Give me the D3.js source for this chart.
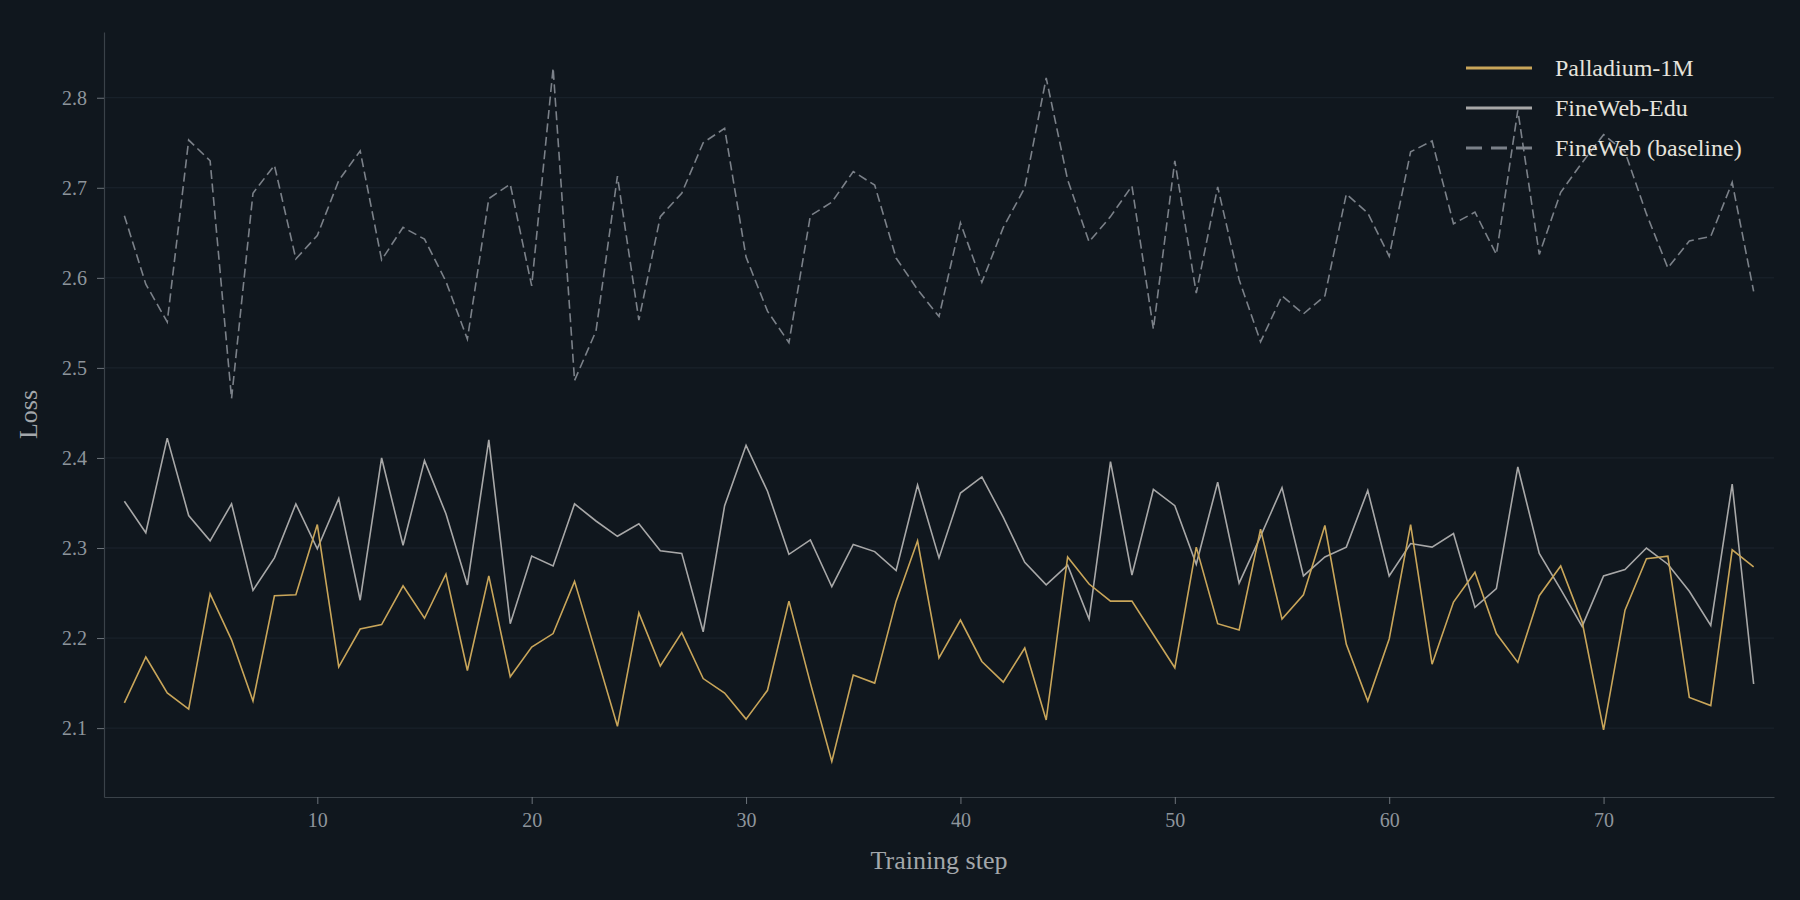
<!DOCTYPE html>
<html>
<head>
<meta charset="utf-8">
<script src="https://d3js.org/d3.v7.min.js"></script>
<style>
  html, body { margin: 0; padding: 0; background: #10171e; }
  svg { display: block; }
  text { font-family: "Liberation Serif", "DejaVu Serif", serif; }
</style>
</head>
<body>
<div class="chart-container"></div>
<script>
// Data
const steps = [1,2,3,4,5,6,7,8,9,10,11,12,13,14,15,16,17,18,19,20,21,22,23,24,25,26,27,28,29,30,
  31,32,33,34,35,36,37,38,39,40,41,42,43,44,45,46,47,48,49,50,51,52,53,54,55,56,57,58,59,60,
  61,62,63,64,65,66,67,68,69,70,71,72,73,74,75,76,77];

const palladium = [2.128,2.179,2.139,2.121,2.249,2.198,2.130,2.247,2.248,2.326,
  2.168,2.210,2.215,2.258,2.222,2.271,2.164,2.269,2.157,2.190,
  2.205,2.263,2.183,2.102,2.228,2.169,2.206,2.155,2.139,2.110,
  2.142,2.241,2.150,2.063,2.159,2.150,2.241,2.308,2.178,2.220,
  2.174,2.151,2.189,2.109,2.290,2.260,2.241,2.241,2.204,2.167,
  2.301,2.216,2.209,2.321,2.221,2.248,2.325,2.193,2.130,2.199,
  2.326,2.171,2.240,2.273,2.205,2.173,2.247,2.280,2.218,2.098,
  2.231,2.288,2.291,2.134,2.125,2.298,2.279];

const finewebEdu = [2.352,2.317,2.422,2.336,2.308,2.349,2.253,2.289,2.349,2.299,
  2.355,2.242,2.400,2.303,2.397,2.338,2.259,2.420,2.216,2.291,
  2.280,2.349,2.330,2.313,2.327,2.297,2.294,2.207,2.347,2.414,
  2.363,2.293,2.309,2.257,2.304,2.296,2.275,2.370,2.289,2.361,
  2.379,2.334,2.284,2.259,2.281,2.221,2.396,2.270,2.365,2.347,
  2.282,2.373,2.261,2.313,2.367,2.269,2.290,2.301,2.364,2.269,
  2.305,2.301,2.316,2.234,2.255,2.390,2.294,2.254,2.213,2.269,
  2.276,2.300,2.282,2.252,2.214,2.371,2.149];

const fineweb = [2.669,2.593,2.551,2.753,2.730,2.466,2.694,2.725,2.621,2.647,
  2.708,2.741,2.620,2.656,2.643,2.596,2.532,2.688,2.704,2.591,
  2.833,2.486,2.541,2.713,2.553,2.668,2.694,2.750,2.766,2.623,
  2.563,2.528,2.669,2.684,2.718,2.703,2.622,2.587,2.557,2.661,
  2.595,2.656,2.700,2.822,2.709,2.640,2.668,2.702,2.543,2.730,
  2.583,2.701,2.598,2.529,2.580,2.560,2.580,2.693,2.672,2.624,
  2.740,2.752,2.660,2.673,2.626,2.786,2.626,2.695,2.728,2.759,
  2.740,2.671,2.611,2.641,2.646,2.706,2.585];

const seriesNames = ['Palladium-1M', 'FineWeb-Edu', 'FineWeb (baseline)'];
const xTicks = [10, 20, 30, 40, 50, 60, 70];
const yTicks = [2.1, 2.2, 2.3, 2.4, 2.5, 2.6, 2.7, 2.8];

// 樣式 (kept apart from the data)
const styles = [
  { color: '#c9a65a', dash: null,  legendDash: null },
  { color: '#a8a8a8', dash: null,  legendDash: null },
  { color: '#7b8189', dash: '9,4.5', legendDash: '16,9' }
];

const svg_width = 1800;
const svg_height = 900;
const margin = { top: 32, right: 26, bottom: 103, left: 104 };
const chart_width = svg_width - margin.left - margin.right;
const chart_height = svg_height - margin.top - margin.bottom;

const svg = d3.select('.chart-container').append('svg')
  .attr('width', svg_width).attr('height', svg_height);

svg.append('rect').attr('width', svg_width).attr('height', svg_height).attr('fill', '#10171e');

const g = svg.append('g').attr('transform', `translate(${margin.left},${margin.top})`);

const xScale = d3.scaleLinear().domain([0.05, 77.95]).range([0, chart_width]);
const yScale = d3.scaleLinear().domain([2.0235, 2.873]).range([chart_height, 0]);

// grid
g.append('g').attr('class', 'grid')
  .selectAll('line').data(yTicks).enter().append('line')
  .attr('x1', 0).attr('x2', chart_width)
  .attr('y1', d => yScale(d)).attr('y2', d => yScale(d))
  .attr('stroke', '#1c252e').attr('stroke-width', 1);

// axes
const xAxis = d3.axisBottom(xScale).tickValues(xTicks).tickFormat(d3.format('d'))
  .tickSizeInner(7).tickSizeOuter(0).tickPadding(9);
const yAxis = d3.axisLeft(yScale).tickValues(yTicks).tickFormat(d3.format('.1f'))
  .tickSizeInner(7).tickSizeOuter(0).tickPadding(10);

const xAxisDraw = g.append('g').attr('class', 'x axis')
  .attr('transform', `translate(0,${chart_height})`).call(xAxis);
const yAxisDraw = g.append('g').attr('class', 'y axis').call(yAxis);

[xAxisDraw, yAxisDraw].forEach(ax => {
  ax.select('.domain').attr('stroke', '#3a4249').attr('stroke-width', 1.2);
  ax.selectAll('.tick line').attr('stroke', '#6c737a').attr('stroke-width', 1);
  ax.selectAll('.tick text').attr('fill', '#8e959c')
    .style('font-size', '20px').style('font-family', '"Liberation Serif", serif');
});

// lines
const allSeries = [palladium, finewebEdu, fineweb];
const line = d3.line().x((d, i) => xScale(steps[i])).y(d => yScale(d));

// draw the baseline first so the other two sit on top
[2, 1, 0].forEach(k => {
  g.append('path')
    .datum(allSeries[k])
    .attr('fill', 'none')
    .attr('stroke', styles[k].color)
    .attr('stroke-width', 1.6)
    .attr('stroke-linejoin', 'miter')
    .attr('stroke-dasharray', styles[k].dash)
    .attr('d', line);
});

// axis labels
svg.append('text')
  .attr('x', margin.left + chart_width / 2).attr('y', 869)
  .attr('text-anchor', 'middle').attr('fill', '#a3a7ab')
  .style('font-size', '26px').text('Training step');

svg.append('text')
  .attr('transform', `translate(37,${margin.top + chart_height / 2}) rotate(-90)`)
  .attr('text-anchor', 'middle').attr('fill', '#a3a7ab')
  .style('font-size', '26px').text('Loss');

// legend
const legend = svg.append('g').attr('class', 'legend').attr('transform', 'translate(1466,68)');
seriesNames.forEach((name, k) => {
  const row = legend.append('g').attr('transform', `translate(0,${k * 40})`);
  row.append('line')
    .attr('x1', 0).attr('x2', 66).attr('y1', 0).attr('y2', 0)
    .attr('stroke', styles[k].color).attr('stroke-width', 3)
    .attr('stroke-dasharray', styles[k].legendDash);
  row.append('text')
    .attr('x', 89).attr('y', 0).attr('dy', '0.35em')
    .attr('fill', '#e6e3dc').style('font-size', '24px').text(name);
});
</script>
</body>
</html>
